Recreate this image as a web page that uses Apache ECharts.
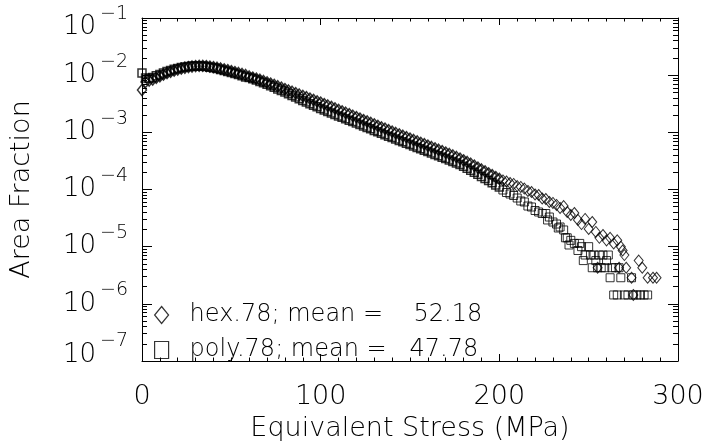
<!DOCTYPE html>
<html><head><meta charset="utf-8">
<script src="https://cdn.jsdelivr.net/npm/echarts@6/dist/echarts.min.js"></script>
<style>html,body{margin:0;padding:0;background:#fff}#c{width:705px;height:445px}</style>
</head><body><div id="c"></div>
<script>
// ---- data ----
const hexX = [0,2,4,6,8,10,12,14,16,18,20,22,24,26,28,30,32,34,36,38,40,42,44,46,48,50,52,54,56,58,60,62,64,66,68,70,72,74,76,78,80,82,84,86,88,90,92,94,96,98,100,102,104,106,108,110,112,114,116,118,120,122,124,126,128,130,132,134,136,138,140,142,144,146,148,150,152,154,156,158,160,162,164,166,168,170,172,174,176,178,180,182,184,186,188,190,192,194,196,198,200,
  202,204,206,208,210,212,214,216,218,220,222,224,226,228,230,232,234,236,238,240,242,244,246,248,250,252,254,255,256,258,260,262,264,266,267,268,269,270,271,274,275,278,280,283,286,288];
const hexY = [5.50e-3,7.59e-3,8.07e-3,8.40e-3,8.99e-3,9.59e-3,1.020e-2,1.083e-2,1.145e-2,1.197e-2,1.252e-2,1.303e-2,1.346e-2,1.384e-2,1.418e-2,1.441e-2,1.453e-2,1.453e-2,1.435e-2,1.412e-2,1.379e-2,1.346e-2,1.308e-2,1.262e-2,1.222e-2,1.178e-2,1.132e-2,1.091e-2,1.048e-2,1.007e-2,9.48e-3,9.07e-3,8.68e-3,8.30e-3,7.91e-3,7.50e-3,7.12e-3,6.76e-3,6.39e-3,6.04e-3,5.70e-3,5.39e-3,5.12e-3,4.84e-3,4.59e-3,4.34e-3,4.12e-3,3.89e-3,3.69e-3,3.49e-3,3.31e-3,3.12e-3,2.95e-3,2.78e-3,2.62e-3,2.47e-3,2.33e-3,2.20e-3,2.08e-3,1.95e-3,1.85e-3,1.74e-3,1.64e-3,1.55e-3,1.46e-3,1.38e-3,1.30e-3,1.22e-3,1.16e-3,1.09e-3,1.03e-3,9.74e-4,9.20e-4,8.70e-4,8.22e-4,7.77e-4,7.34e-4,6.94e-4,6.56e-4,6.20e-4,5.86e-4,5.54e-4,5.24e-4,4.95e-4,4.68e-4,4.42e-4,4.18e-4,3.93e-4,3.70e-4,3.47e-4,3.24e-4,3.03e-4,2.82e-4,2.61e-4,2.42e-4,2.24e-4,2.07e-4,1.92e-4,1.78e-4,1.65e-4,1.53e-4,
  1.44e-4,1.38e-4,1.30e-4,1.25e-4,1.15e-4,1.11e-4,1.04e-4,9.42e-5,9.04e-5,8.18e-5,8.01e-5,6.96e-5,6.82e-5,6.05e-5,5.81e-5,5.36e-5,4.75e-5,5.14e-5,4.04e-5,3.58e-5,3.88e-5,2.93e-5,2.49e-5,3.05e-5,2.04e-5,2.70e-5,1.81e-5,4.28e-6,1.43e-5,1.60e-5,1.29e-5,1.43e-5,1.14e-5,1.29e-5,4.28e-6,1.0e-5,8.57e-6,7.14e-6,4.28e-6,2.86e-6,1.43e-6,5.71e-6,4.28e-6,2.86e-6,2.86e-6,2.86e-6];
const polyX = [0,2,4,6,8,10,12,14,16,18,20,22,24,26,28,30,32,34,36,38,40,42,44,46,48,50,52,54,56,58,60,62,64,66,68,70,72,74,76,78,80,82,84,86,88,90,92,94,96,98,100,102,104,106,108,110,112,114,116,118,120,122,124,126,128,130,132,134,136,138,140,142,144,146,148,150,152,154,156,158,160,162,164,166,168,170,172,174,176,178,180,182,184,186,188,190,192,194,196,198,200,
  202,204,206,208,210,212,214,216,218,220,222,224,226,227,228,230,232,233,234,236,237,238,239,240,242,244,245,246,247,248,250,251,252,253,254,255,256,257,258,259,260,261,262,263,264,265,266,267,268,270,272,274,275,277,279,281,283];
const polyY = [1.091e-2,8.92e-3,8.74e-3,9.11e-3,9.75e-3,1.031e-2,1.096e-2,1.154e-2,1.212e-2,1.267e-2,1.314e-2,1.357e-2,1.390e-2,1.418e-2,1.441e-2,1.453e-2,1.453e-2,1.441e-2,1.412e-2,1.379e-2,1.346e-2,1.303e-2,1.257e-2,1.212e-2,1.164e-2,1.113e-2,1.070e-2,1.023e-2,9.75e-3,9.29e-3,9.11e-3,8.67e-3,8.20e-3,7.78e-3,7.35e-3,6.92e-3,6.52e-3,6.14e-3,5.75e-3,5.39e-3,5.06e-3,4.72e-3,4.43e-3,4.15e-3,3.88e-3,3.62e-3,3.40e-3,3.17e-3,2.97e-3,2.79e-3,2.60e-3,2.45e-3,2.31e-3,2.18e-3,2.06e-3,1.94e-3,1.83e-3,1.73e-3,1.63e-3,1.54e-3,1.45e-3,1.37e-3,1.29e-3,1.21e-3,1.15e-3,1.08e-3,1.02e-3,9.62e-4,9.09e-4,8.56e-4,8.09e-4,7.65e-4,7.23e-4,6.83e-4,6.46e-4,6.10e-4,5.77e-4,5.45e-4,5.15e-4,4.87e-4,4.60e-4,4.35e-4,4.11e-4,3.89e-4,3.67e-4,3.47e-4,3.28e-4,3.09e-4,2.91e-4,2.73e-4,2.55e-4,2.36e-4,2.18e-4,2.00e-4,1.84e-4,1.69e-4,1.55e-4,1.43e-4,1.31e-4,1.20e-4,1.11e-4,
  9.80e-5,8.86e-5,8.34e-5,7.86e-5,7.10e-5,6.30e-5,6.05e-5,5.14e-5,4.94e-5,4.29e-5,4.04e-5,3.80e-5,3.80e-5,2.93e-5,3.30e-5,2.70e-5,2.49e-5,2.12e-5,2.21e-5,1.96e-5,1.43e-5,1.43e-5,1.07e-5,1.29e-5,1.14e-5,8.57e-6,1.14e-5,1.0e-5,5.71e-6,7.14e-6,1.0e-5,7.14e-6,4.28e-6,7.14e-6,5.71e-6,4.28e-6,7.14e-6,4.28e-6,7.14e-6,4.28e-6,5.71e-6,7.14e-6,2.86e-6,4.28e-6,1.43e-6,4.28e-6,1.43e-6,4.28e-6,2.86e-6,1.43e-6,1.43e-6,2.86e-6,1.43e-6,1.43e-6,1.43e-6,1.43e-6,1.43e-6];
const seriesNames = ['hex.78; mean =    52.18', 'poly.78; mean =   47.78'];
const xRange = [0, 300];
const xStep = 100;
const yRange = [1e-7, 1e-1];
const xTitle = 'Equivalent Stress (MPa)';
const yTitle = 'Area Fraction';

// ---- chart ----
const FONT = 'DejaVu Sans';
const TXT = '#000';
const chart = echarts.init(document.getElementById('c'), null, {renderer: 'canvas'});

// minor tick positions of the log axis (2..9 within every decade)
const yMinor = [];
for (let e = -7; e < -1; e++) for (let k = 2; k <= 9; k++) yMinor.push(Number((k * Math.pow(10, e)).toPrecision(3)));

function yLabel(v) {
  const e = Math.round(Math.log10(v));
  const s = '\u2212' + (-e);
  if (e === -1) return '{bt|10}{st|' + s + '}';
  if (e === -7) return '{bb|10}{sb|' + s + '}';
  return '{b|10}{s|' + s + '}';
}
const bBase = {fontSize: 26, fontFamily: FONT, fontWeight: 200, color: TXT, verticalAlign: 'middle'};
const sBase = {fontSize: 19, fontFamily: FONT, fontWeight: 200, color: TXT, verticalAlign: 'middle'};
const rich = {
  b: Object.assign({}, bBase),
  s: Object.assign({}, sBase, {padding: [0, 0, 27, 4]}),
  bt: Object.assign({}, bBase, {padding: [19, 0, 0, 0]}),
  st: Object.assign({}, sBase, {padding: [0, 0, 8, 4]}),
  bb: Object.assign({}, bBase, {padding: [0, 0, 12, 0]}),
  sb: Object.assign({}, sBase, {padding: [0, 0, 39, 4]})
};

const lineStyle = {color: '#000', width: 1};
function xAx(pos, main) {
  return {
    type: 'value', position: pos, min: xRange[0], max: xRange[1], interval: xStep,
    axisLine: {show: true, onZero: false, lineStyle},
    axisTick: {show: true, inside: true, length: 7, lineStyle},
    minorTick: {show: true, splitNumber: 10, length: 3.5, lineStyle},
    splitLine: {show: false},
    axisLabel: main ? {show: true, margin: 22, fontSize: 27, fontFamily: FONT, fontWeight: 200, color: TXT} : {show: false},
    name: main ? xTitle : '', nameLocation: 'middle', nameGap: 54,
    nameTextStyle: {fontSize: 27, fontFamily: FONT, fontWeight: 200, color: TXT}
  };
}
function yAx(pos, main) {
  return {
    type: 'log', logBase: 10, position: pos, min: yRange[0], max: yRange[1], splitNumber: 6,
    axisLine: {show: true, onZero: false, lineStyle},
    axisTick: {show: true, inside: true, length: 10, lineStyle},
    minorTick: {show: false}, splitLine: {show: false},
    axisLabel: main ? {show: true, margin: 14, formatter: yLabel, rich, showMinLabel: true, showMaxLabel: true} : {show: false},
    name: main ? yTitle : '', nameLocation: 'middle', nameGap: 107, nameRotate: 90,
    nameTextStyle: {fontSize: 27, fontFamily: FONT, fontWeight: 200, color: TXT}
  };
}
function yMinorAx(pos) {
  return {
    type: 'log', logBase: 10, position: pos, min: yRange[0], max: yRange[1],
    axisLine: {show: false, onZero: false},
    axisTick: {show: true, inside: true, length: 5, lineStyle, customValues: yMinor},
    axisLabel: {show: false}, splitLine: {show: false}
  };
}

const hollowThick = {color: 'rgba(0,0,0,0)', borderColor: '#000', borderWidth: 1.5};
const hollow = {color: 'rgba(0,0,0,0)', borderColor: '#000', borderWidth: 1};
function pts(xs, ys, lo, hi) {
  const out = [];
  xs.forEach((x, i) => { if (x >= lo && x < hi) out.push([x, ys[i]]); });
  return out;
}
const DENSE_END = 201; // densely overlapped part of the band drawn with a heavier outline
function sc(name, symbol, size, style, data) {
  return {name, type: 'scatter', xAxisIndex: 0, yAxisIndex: 0, symbol, symbolSize: size, itemStyle: style, silent: true, data};
}
chart.setOption({
  animation: false, backgroundColor: '#fff',
  grid: {left: 142, right: 27, top: 18, bottom: 84, containLabel: false, outerBoundsMode: 'none'},
  xAxis: [xAx('bottom', true), xAx('top', false)],
  yAxis: [yAx('left', true), yAx('right', false), yMinorAx('left'), yMinorAx('right')],
  legend: {
    show: true, orient: 'vertical', left: 154, top: 303, padding: 0, itemWidth: 14, itemHeight: 17, itemGap: 11,
    itemStyle: {color: 'rgba(0,0,0,0)', borderColor: '#000', borderWidth: 1.2},
    textStyle: {fontSize: 24, fontFamily: FONT, fontWeight: 200, color: TXT, lineHeight: 24, padding: [0, 0, 0, 16]},
    data: [{name: seriesNames[0], icon: 'diamond'}, {name: seriesNames[1], icon: 'rect'}],
    selectedMode: false
  },
  series: [
    sc(seriesNames[0], 'diamond', [9, 11], hollowThick, pts(hexX, hexY, 0, DENSE_END)),
    sc(seriesNames[0], 'diamond', [9, 11], hollow, pts(hexX, hexY, DENSE_END, 1e9)),
    sc(seriesNames[1], 'rect', 8, hollowThick, pts(polyX, polyY, 0, DENSE_END)),
    sc(seriesNames[1], 'rect', 8, hollow, pts(polyX, polyY, DENSE_END, 1e9))
  ]
});
</script></body></html>
